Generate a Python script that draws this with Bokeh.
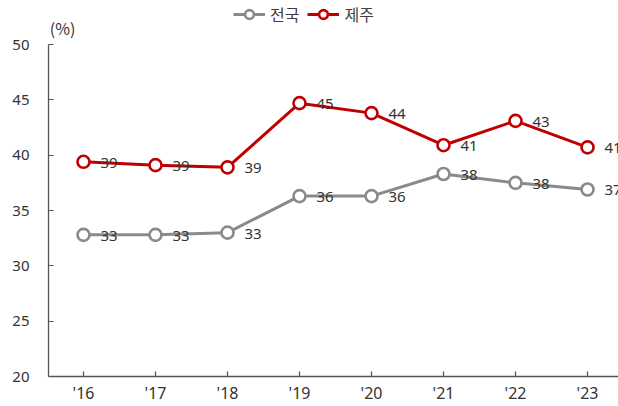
from bokeh.plotting import figure
from bokeh.models import (ColumnDataSource, FixedTicker, Legend, LegendItem,
                          Label, Range1d)
from bokeh.core.properties import value
from bokeh.embed import file_html
from bokeh.resources import INLINE

# Share by year (%)
years = ["'16", "'17", "'18", "'19", "'20", "'21", "'22", "'23"]
national = [32.8, 32.8, 33.0, 36.3, 36.3, 38.3, 37.5, 36.9]
jeju = [39.4, 39.1, 38.9, 44.7, 43.8, 40.9, 43.1, 40.7]
series_names = ["전국", "제주"]
y_ticks = [20, 25, 30, 35, 40, 45, 50]

GRAY = "#8a8a8a"
RED = "#c00000"
TEXT = "#333333"
NUM_FONT = "Noto Sans"
KR_FONT = "Noto Sans CJK KR"

xs = list(range(len(years)))

# The frame reaches the top edge so the legend and unit label can sit
# inside it; the y axis itself is bounded to 20-50.
p = figure(width=618, height=406, output_backend="svg", toolbar_location=None,
           x_range=Range1d(-0.486, 7.43), y_range=Range1d(20, 53.976),
           min_border_left=48, min_border_right=0, min_border_top=0,
           min_border_bottom=30)
p.outline_line_color = None
p.xgrid.visible = False
p.ygrid.visible = False

renderers = {}
for name, vals, color in [(series_names[0], national, GRAY),
                          (series_names[1], jeju, RED)]:
    src = ColumnDataSource(dict(x=xs, y=vals,
                                label=[str(int(round(v))) for v in vals]))
    ln = p.line("x", "y", source=src, line_color=color, line_width=3)
    sc = p.scatter("x", "y", source=src, size=12, marker="circle",
                   fill_color="white", line_color=color, line_width=2.6)
    p.text("x", "y", text="label", source=src, x_offset=17, y_offset=1,
           text_align="left", text_baseline="middle",
           text_font=value(NUM_FONT), text_font_size="15px",
           text_color=TEXT)
    renderers[name] = [ln, sc]

# Axes
for ax in (p.xaxis[0], p.yaxis[0]):
    ax.axis_line_color = "#555555"
    ax.axis_line_width = 1.3
    ax.major_tick_line_color = "#555555"
    ax.major_tick_line_width = 1.2
    ax.major_tick_in = 5
    ax.major_tick_out = 0
    ax.minor_tick_line_color = None
    ax.major_label_text_font = NUM_FONT
    ax.major_label_text_color = TEXT

p.xaxis.ticker = FixedTicker(ticks=xs)
p.xaxis.major_label_overrides = {i: t for i, t in enumerate(years)}
p.xaxis.major_label_standoff = 5
p.xaxis.major_label_text_font_size = "16px"
p.yaxis.ticker = FixedTicker(ticks=y_ticks)
p.yaxis.bounds = (20, 50)
p.yaxis.major_label_standoff = 19
p.yaxis.major_label_text_font_size = "15px"

p.add_layout(Label(x=-0.29, y=51.5, text="(%)", text_align="center",
                   text_baseline="middle", text_font=KR_FONT,
                   text_font_size="16px", text_color=TEXT))

# Tuple location is the legend's bottom-left corner, in frame pixels.
legend = Legend(items=[LegendItem(label=n, renderers=renderers[n])
                       for n in series_names],
                orientation="horizontal", location=(185, 350),
                glyph_width=32, glyph_height=22, label_height=16,
                label_standoff=5, spacing=8, padding=0, margin=0,
                label_text_font=KR_FONT, label_text_font_size="16px",
                label_text_color="#404040", border_line_alpha=0,
                background_fill_alpha=0)
p.add_layout(legend, "center")

open("out.html", "w").write(file_html(p, INLINE))
